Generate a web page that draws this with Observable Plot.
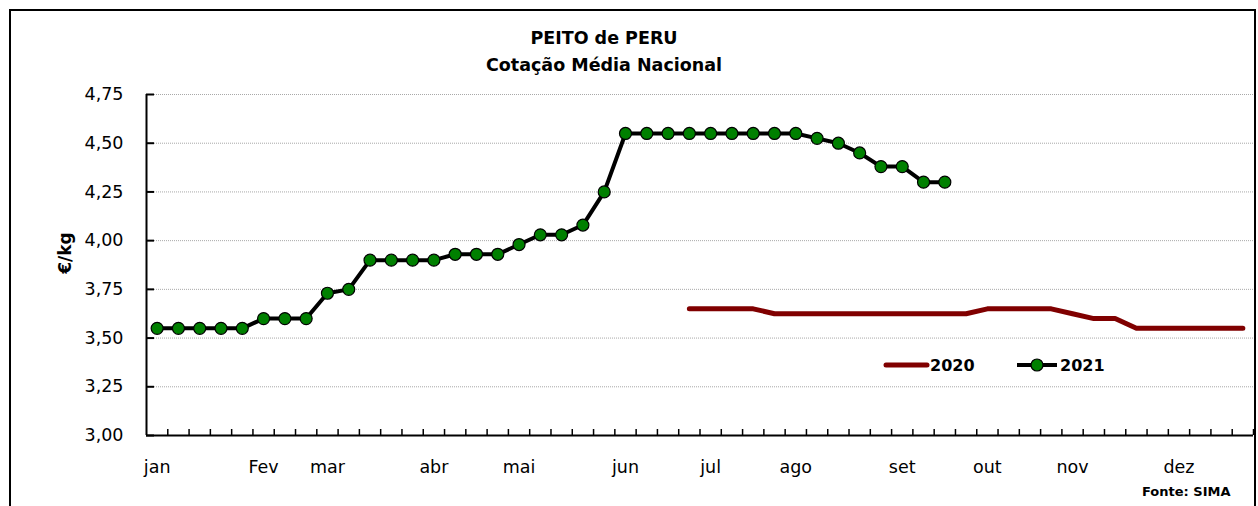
<!DOCTYPE html>
<html>
<head>
<meta charset="utf-8">
<script src="https://cdn.jsdelivr.net/npm/d3@7"></script>
<script src="https://cdn.jsdelivr.net/npm/@observablehq/plot@0.6"></script>
<style>
  body { margin: 0; background: #fff; }
  #wrap { position: relative; width: 1258px; height: 506px; overflow: hidden; font-family: "DejaVu Sans", sans-serif; }
  #border { position: absolute; left: 9px; top: 9px; width: 1247px; height: 520px; border: 2px solid #000; box-sizing: border-box; pointer-events: none; }
  #legend { position: absolute; left: 880px; top: 350px; }
</style>
</head>
<body>
<div id="wrap">
  <div id="chart"></div>
  <div id="border"></div>
  <svg id="legend" width="240" height="30"></svg>
</div>
<script>
// ---- data ----
const months = ["jan", "Fev", "mar", "abr", "mai", "jun", "jul", "ago", "set", "out", "nov", "dez"];
const monthWeeks = [0, 5, 8, 13, 17, 22, 26, 30, 35, 39, 43, 48];
const yTicks = [3.00, 3.25, 3.50, 3.75, 4.00, 4.25, 4.50, 4.75];

const weeks2021 = d3.range(0, 38);
const values2021 = [3.55, 3.55, 3.55, 3.55, 3.55, 3.60, 3.60, 3.60, 3.73, 3.75,
                    3.90, 3.90, 3.90, 3.90, 3.93, 3.93, 3.93, 3.98, 4.03, 4.03,
                    4.08, 4.25, 4.55, 4.55, 4.55, 4.55, 4.55, 4.55, 4.55, 4.55,
                    4.55, 4.525, 4.50, 4.45, 4.38, 4.38, 4.30, 4.30];

const weeks2020 = d3.range(25, 52);
const values2020 = [3.65, 3.65, 3.65, 3.65,
                    3.625, 3.625, 3.625, 3.625, 3.625, 3.625, 3.625, 3.625, 3.625, 3.625,
                    3.65, 3.65, 3.65, 3.65,
                    3.625, 3.60, 3.60,
                    3.55, 3.55, 3.55, 3.55, 3.55, 3.55];

const data2021 = weeks2021.map((w, i) => ({week: w, value: values2021[i]}));
const data2020 = weeks2020.map((w, i) => ({week: w, value: values2020[i]}));
const weekBounds = d3.range(1, 53).map(k => k - 0.5);
const fmt = d => d.toFixed(2).replace(".", ",");

const chart = Plot.plot({
  width: 1258,
  height: 506,
  marginLeft: 146,
  marginRight: 5,
  marginTop: 94,
  marginBottom: 71,
  style: {fontFamily: "DejaVu Sans, sans-serif", fontSize: "17px", color: "#000", background: "transparent"},
  x: {domain: [-0.5, 51.5], axis: null},
  y: {domain: [3, 4.75], axis: null},
  marks: [
    // gridlines
    Plot.ruleY(yTicks.filter(d => d > 3), {stroke: "#a8a8a8", strokeWidth: 1, strokeDasharray: "1,1"}),
    // y tick marks (inside)
    Plot.axisY({ticks: yTicks, tickSize: 8, dx: 8, tickFormat: () => "", label: null, strokeWidth: 2}),
    // y tick labels
    Plot.axisY({ticks: yTicks, tickSize: 0, tickPadding: 23, tickFormat: fmt, label: null, fontSize: 17.5}),
    // x tick marks (inside, between weeks)
    Plot.axisX({ticks: weekBounds, tickSize: 6, dy: -6, tickFormat: () => "", label: null, strokeWidth: 1.5}),
    // x month labels
    Plot.axisX({ticks: monthWeeks, tickSize: 0, tickPadding: 25, tickFormat: w => months[monthWeeks.indexOf(w)], label: null, fontSize: 17.5}),
    // axis lines
    Plot.ruleX([-0.5], {stroke: "#000", strokeWidth: 2}),
    Plot.ruleY([3], {stroke: "#000", strokeWidth: 2}),
    // series
    Plot.line(data2020, {x: "week", y: "value", stroke: "#800000", strokeWidth: 5, strokeLinecap: "round", strokeLinejoin: "round"}),
    Plot.line(data2021, {x: "week", y: "value", stroke: "#000", strokeWidth: 4, strokeLinejoin: "round"}),
    Plot.dot(data2021, {x: "week", y: "value", r: 6, fill: "#008000", stroke: "#000", strokeWidth: 1.2}),
    // titles & annotations
    Plot.text(["PEITO de PERU"], {frameAnchor: "top", dx: -96, dy: -56, fontWeight: "bold", fontSize: 17.5, lineAnchor: "middle"}),
    Plot.text(["Cotação Média Nacional"], {frameAnchor: "top", dx: -96, dy: -29, fontWeight: "bold", fontSize: 17.5, lineAnchor: "middle"}),
    Plot.text(["€/kg"], {frameAnchor: "left", dx: -81, dy: -12, rotate: -90, fontWeight: "bold", fontSize: 17, lineAnchor: "middle", textAnchor: "middle"}),
    Plot.text(["Fonte: SIMA"], {frameAnchor: "bottom-right", dx: -23, dy: 56, fontWeight: "bold", fontSize: 13, textAnchor: "end", lineAnchor: "middle"})
  ]
});
document.getElementById("chart").appendChild(chart);

// legend
const lg = d3.select("#legend");
lg.append("line").attr("x1", 6).attr("x2", 47).attr("y1", 15).attr("y2", 15)
  .attr("stroke", "#800000").attr("stroke-width", 5).attr("stroke-linecap", "round");
lg.append("text").attr("x", 50).attr("y", 15).attr("dominant-baseline", "central")
  .attr("font-family", "DejaVu Sans, sans-serif").attr("font-weight", "bold").attr("font-size", 16).text("2020");
lg.append("line").attr("x1", 137).attr("x2", 177).attr("y1", 15).attr("y2", 15)
  .attr("stroke", "#000").attr("stroke-width", 4);
lg.append("circle").attr("cx", 157).attr("cy", 15).attr("r", 6)
  .attr("fill", "#008000").attr("stroke", "#000").attr("stroke-width", 1.2);
lg.append("text").attr("x", 180).attr("y", 15).attr("dominant-baseline", "central")
  .attr("font-family", "DejaVu Sans, sans-serif").attr("font-weight", "bold").attr("font-size", 16).text("2021");
</script>
</body>
</html>
